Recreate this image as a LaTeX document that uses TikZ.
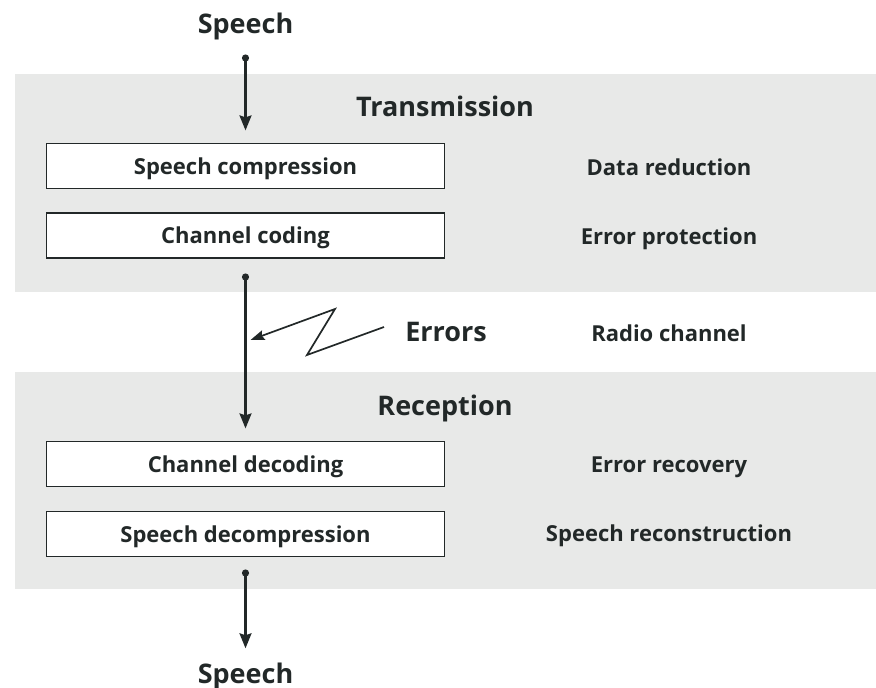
\documentclass[tikz,border=0pt]{standalone}
\usepackage{fontspec}
\setmainfont{Open Sans}
\usetikzlibrary{arrows.meta,positioning}
\definecolor{ink}{HTML}{222828}
\definecolor{panel}{HTML}{E8E9E8}
\tikzset{
  blockbox/.style={draw=ink, line width=1.2pt, fill=white, minimum width=398pt, minimum height=45pt,
    inner sep=0pt, text height=17pt, text depth=0.4pt, text=ink, font=\fontsize{22}{26}\selectfont\bfseries},
  note/.style={anchor=base, inner sep=0pt, text=ink, font=\fontsize{22}{26}\selectfont\bfseries},
  heading/.style={anchor=base, inner sep=0pt, text=ink, font=\fontsize{27}{32}\selectfont\bfseries},
  flow/.style={draw=ink, line width=2.3pt, -{Stealth[length=15pt,width=12pt,inset=2pt]}},
  spark/.style={draw=ink, line width=1.7pt, line join=miter, -{Stealth[length=14pt,width=10pt,inset=2pt]}},
}
\begin{document}
\begin{tikzpicture}[x=1pt,y=-1pt]
  \useasboundingbox (0,0) rectangle (876,688);
  % panels
  \fill[panel] (15,74) rectangle (876,292);
  \fill[panel] (15,372) rectangle (876,589);

  % transmission side
  \node[heading] (speechin) at (245.5,33.5) {Speech};
  \node[heading] (trans) at (445,116) {Transmission};
  \node[blockbox] (compr) at (245.5,166) {Speech compression};
  \node[blockbox] (coding) at (245.5,235.5) {Channel coding};
  \node[note] (datared) at (669,175) {Data reduction};
  \node[note] (errprot) at (669,244.3) {Error protection};

  % channel
  \node[heading] (errors) at (446,341) {Errors};
  \node[note] (radio) at (669,341) {Radio channel};

  % reception side
  \node[heading] (recep) at (445,415) {Reception};
  \node[blockbox] (decod) at (245.5,464.2) {Channel decoding};
  \node[blockbox] (decompr) at (245.5,534.2) {Speech decompression};
  \node[note] (errrec) at (669,472.7) {Error recovery};
  \node[note] (recon) at (669,541.7) {Speech reconstruction};
  \node[heading] (speechout) at (245.5,683) {Speech};

  % connectors
  \coordinate (dot1) at (245.5,58);
  \coordinate (dot2) at (245.5,277);
  \coordinate (dot3) at (245.5,573);
  \foreach \d in {dot1,dot2,dot3}
    \fill[ink] (\d) circle (3.6pt);
  \draw[flow, shorten >=12.5pt] (dot1) -- (compr.north);
  \draw[flow, shorten >=12.7pt] (dot2) -- (decod.north);
  \draw[flow, shorten >=14pt] (dot3) -- (speechout.north);

  % interference
  \coordinate (zig1) at (384,327);
  \coordinate (zig2) at (307,355);
  \coordinate (zig3) at (335,309);
  \coordinate (hit) at (250.5,340);
  \draw[spark] (zig1) -- (zig2) -- (zig3) -- (hit);
\end{tikzpicture}
\end{document}
